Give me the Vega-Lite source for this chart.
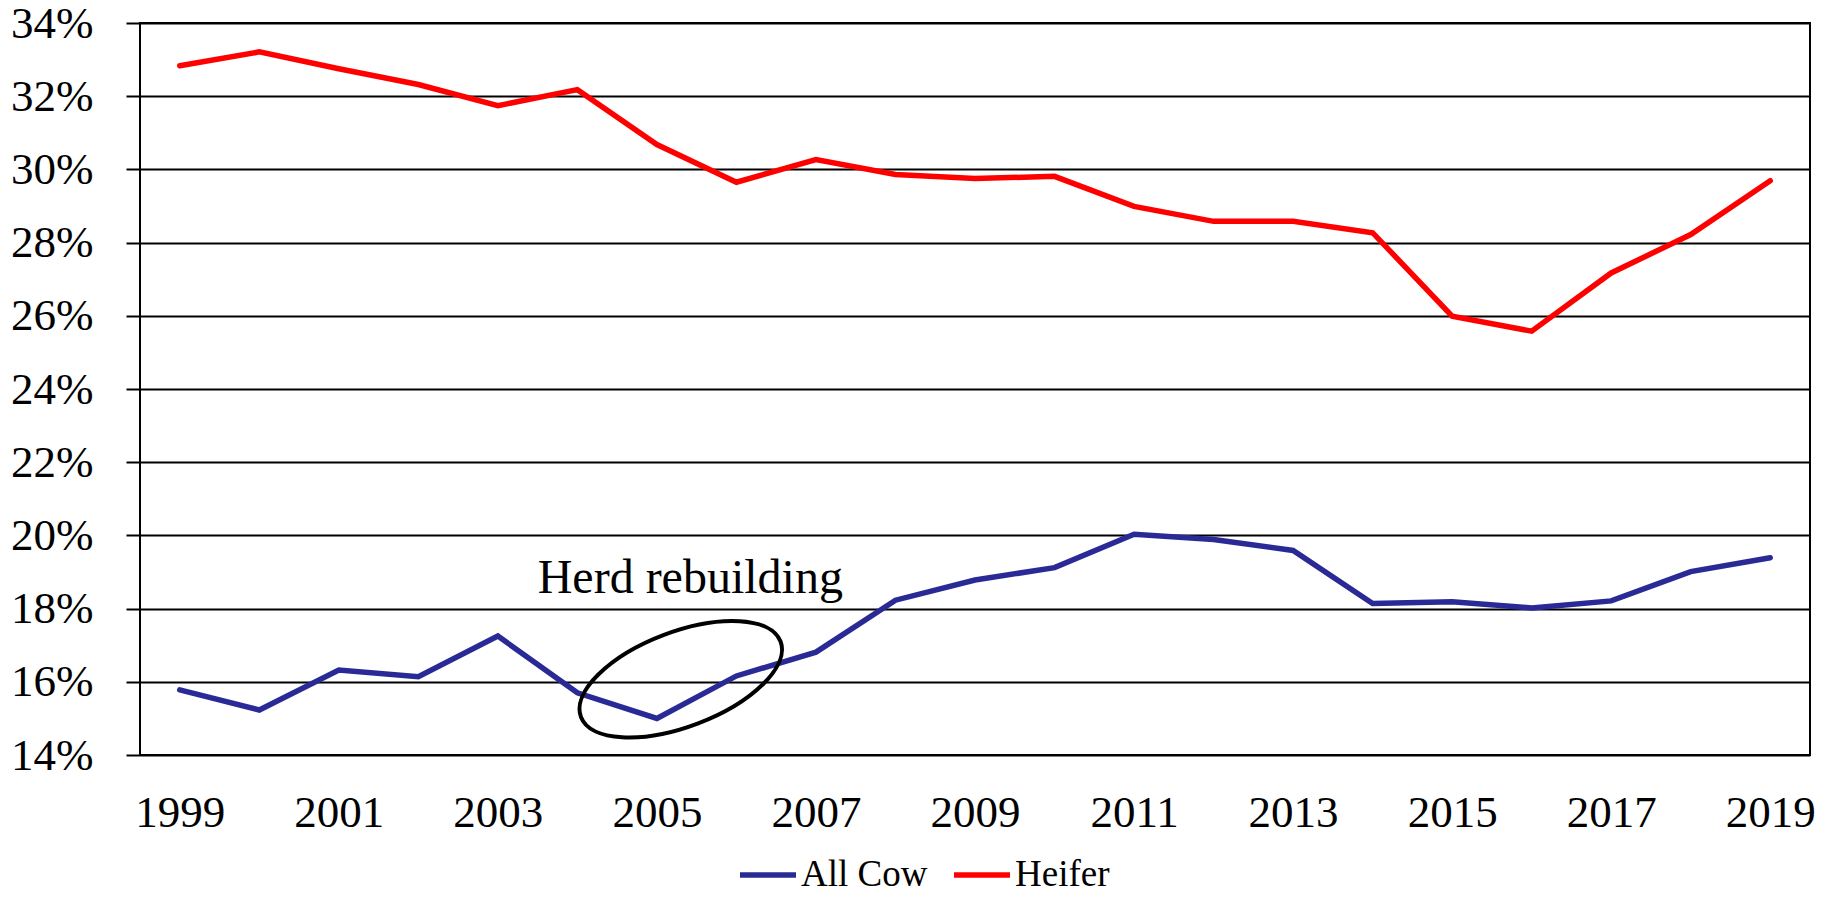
{
  "$schema": "https://vega.github.io/schema/vega-lite/v6.json",
  "width": 1670,
  "height": 732,
  "autosize": {"type": "none"},
  "padding": {"left": 140, "top": 23, "right": 25, "bottom": 142},
  "background": "white",
  "config": {
    "view": {"stroke": "black", "strokeWidth": 2},
    "font": "Liberation Serif"
  },
  "datasets": {
    "series": [
      {"year": 1999, "series": "All Cow", "value": 0.1578},
      {"year": 2000, "series": "All Cow", "value": 0.1523},
      {"year": 2001, "series": "All Cow", "value": 0.1632},
      {"year": 2002, "series": "All Cow", "value": 0.1614},
      {"year": 2003, "series": "All Cow", "value": 0.1725},
      {"year": 2004, "series": "All Cow", "value": 0.1570},
      {"year": 2005, "series": "All Cow", "value": 0.1500},
      {"year": 2006, "series": "All Cow", "value": 0.1616},
      {"year": 2007, "series": "All Cow", "value": 0.1681},
      {"year": 2008, "series": "All Cow", "value": 0.1823},
      {"year": 2009, "series": "All Cow", "value": 0.1878},
      {"year": 2010, "series": "All Cow", "value": 0.1912},
      {"year": 2011, "series": "All Cow", "value": 0.2003},
      {"year": 2012, "series": "All Cow", "value": 0.1989},
      {"year": 2013, "series": "All Cow", "value": 0.1959},
      {"year": 2014, "series": "All Cow", "value": 0.1814},
      {"year": 2015, "series": "All Cow", "value": 0.1819},
      {"year": 2016, "series": "All Cow", "value": 0.1802},
      {"year": 2017, "series": "All Cow", "value": 0.1821},
      {"year": 2018, "series": "All Cow", "value": 0.1901},
      {"year": 2019, "series": "All Cow", "value": 0.1939},
      {"year": 1999, "series": "Heifer", "value": 0.3283},
      {"year": 2000, "series": "Heifer", "value": 0.3321},
      {"year": 2001, "series": "Heifer", "value": 0.3275},
      {"year": 2002, "series": "Heifer", "value": 0.3232},
      {"year": 2003, "series": "Heifer", "value": 0.3174},
      {"year": 2004, "series": "Heifer", "value": 0.3218},
      {"year": 2005, "series": "Heifer", "value": 0.3068},
      {"year": 2006, "series": "Heifer", "value": 0.2965},
      {"year": 2007, "series": "Heifer", "value": 0.3027},
      {"year": 2008, "series": "Heifer", "value": 0.2986},
      {"year": 2009, "series": "Heifer", "value": 0.2975},
      {"year": 2010, "series": "Heifer", "value": 0.2981},
      {"year": 2011, "series": "Heifer", "value": 0.2899},
      {"year": 2012, "series": "Heifer", "value": 0.2858},
      {"year": 2013, "series": "Heifer", "value": 0.2858},
      {"year": 2014, "series": "Heifer", "value": 0.2827},
      {"year": 2015, "series": "Heifer", "value": 0.2599},
      {"year": 2016, "series": "Heifer", "value": 0.2558},
      {"year": 2017, "series": "Heifer", "value": 0.2717},
      {"year": 2018, "series": "Heifer", "value": 0.2822},
      {"year": 2019, "series": "Heifer", "value": 0.2969}
    ],
    "notes": [{"label": "Herd rebuilding", "year": 2005.42, "value": 0.18435}],
    "ellipse": [{"year": 2005.30, "value": 0.1607}]
  },
  "layer": [
    {
      "data": {"name": "series"},
      "mark": {"type": "line", "strokeWidth": 5.5, "strokeJoin": "miter", "strokeCap": "round"},
      "encoding": {
        "x": {
          "field": "year", "type": "quantitative",
          "scale": {"domain": [1998.5, 2019.5], "nice": false, "zero": false},
          "axis": {
            "values": [1999, 2001, 2003, 2005, 2007, 2009, 2011, 2013, 2015, 2017, 2019],
            "format": "d", "grid": false, "ticks": false, "tickSize": 0, "domain": false,
            "labelFontSize": 45, "labelFont": "Liberation Serif", "labelColor": "black",
            "labelPadding": 35, "labelFlush": false, "labelOverlap": false, "title": null
          }
        },
        "y": {
          "field": "value", "type": "quantitative",
          "scale": {"domain": [0.14, 0.34], "nice": false, "zero": false},
          "axis": {
            "values": [0.14, 0.16, 0.18, 0.20, 0.22, 0.24, 0.26, 0.28, 0.30, 0.32, 0.34],
            "format": ".0%", "grid": true, "gridColor": "black", "gridWidth": 2, "gridOpacity": 1,
            "domain": false, "tickSize": 14, "tickColor": "black", "tickWidth": 2,
            "labelFontSize": 45, "labelFont": "Liberation Serif", "labelColor": "black",
            "labelPadding": 33, "labelOverlap": false, "labelFlush": false, "title": null
          }
        },
        "color": {
          "field": "series", "type": "nominal",
          "scale": {"domain": ["All Cow", "Heifer"], "range": ["#2A2A96", "#FF0000"]},
          "legend": {
            "orient": "none", "legendX": 597, "legendY": 821, "direction": "horizontal",
            "title": null, "symbolType": "stroke", "symbolSize": 3136, "symbolStrokeWidth": 5.5,
            "labelFontSize": 37, "labelFont": "Liberation Serif", "labelColor": "black",
            "labelOffset": 2, "columnPadding": 15
          }
        }
      }
    },
    {
      "data": {"name": "notes"},
      "mark": {"type": "text", "fontSize": 48, "font": "Liberation Serif", "baseline": "alphabetic", "align": "center", "color": "black"},
      "encoding": {
        "x": {"field": "year", "type": "quantitative"},
        "y": {"field": "value", "type": "quantitative"},
        "text": {"field": "label"}
      }
    },
    {
      "data": {"name": "ellipse"},
      "mark": {
        "type": "point",
        "shape": "M -1 0 A 1 0.445 0 1 1 1 0 A 1 0.445 0 1 1 -1 0 Z",
        "size": 45540, "angle": 339.3, "filled": false,
        "stroke": "black", "strokeWidth": 4, "opacity": 1
      },
      "encoding": {
        "x": {"field": "year", "type": "quantitative"},
        "y": {"field": "value", "type": "quantitative"}
      }
    }
  ]
}
